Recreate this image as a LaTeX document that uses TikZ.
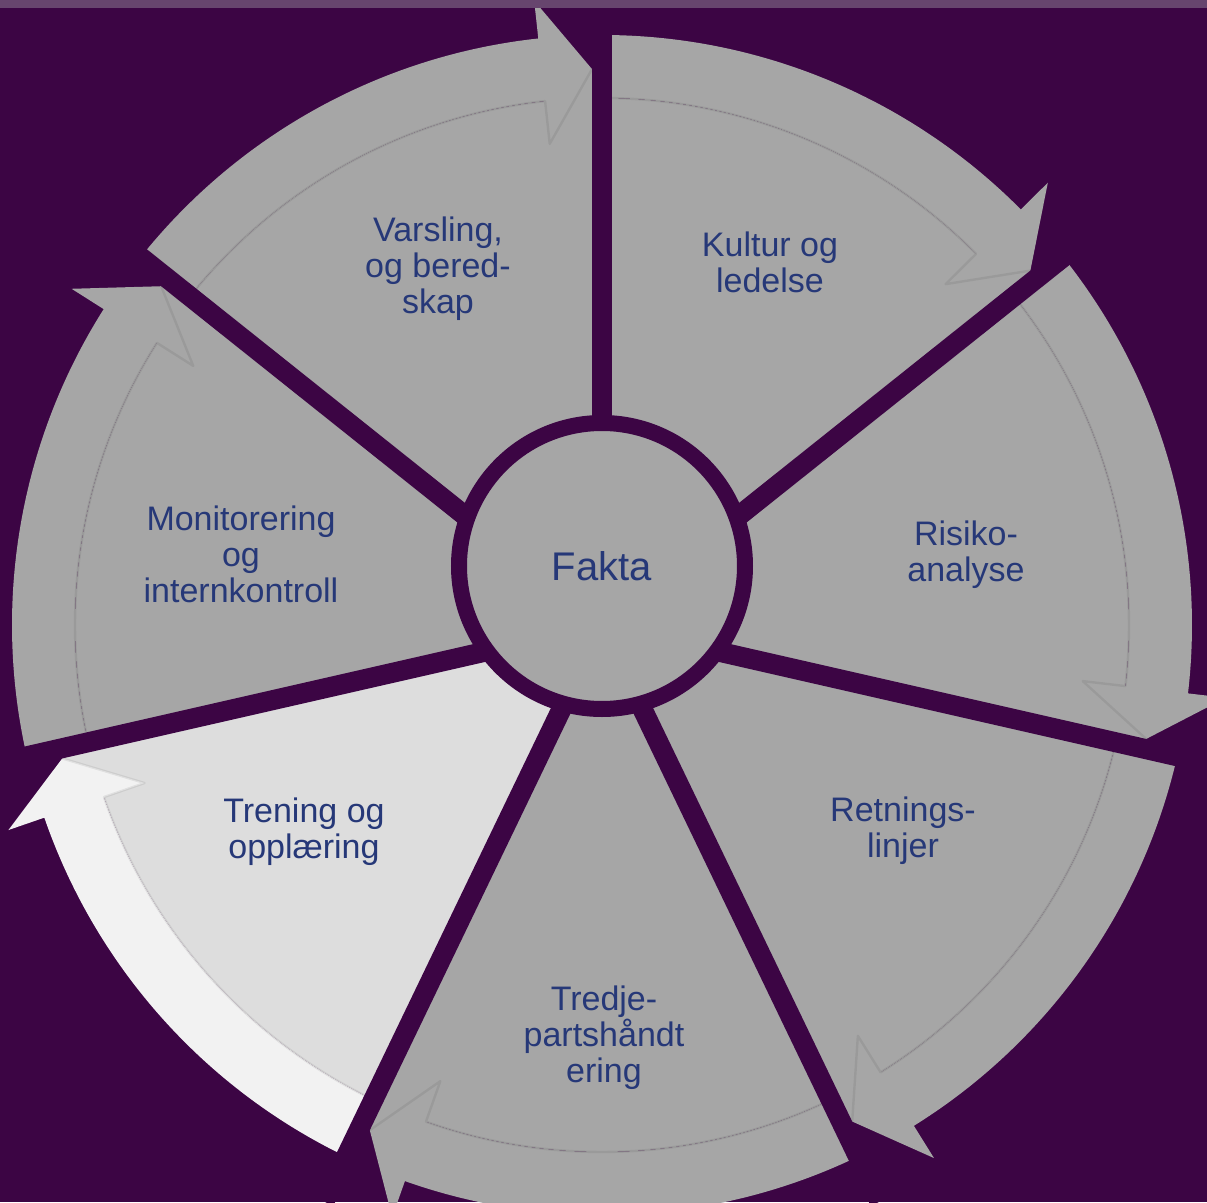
\documentclass[tikz,border=0pt]{standalone}
\usepackage{fontspec}
\setmainfont{Liberation Sans}
\definecolor{bgpurple}{HTML}{3C0544}
\definecolor{topstrip}{HTML}{67456E}
\definecolor{seggray}{HTML}{A6A6A6}
\definecolor{lightwedge}{HTML}{DDDDDD}
\definecolor{lightband}{HTML}{F2F2F2}
\definecolor{navytext}{HTML}{263878}
\tikzset{
  lbl/.style={text=navytext, font=\fontsize{34}{36}\selectfont, align=center, inner sep=0pt},
  gapline/.style={draw=bgpurple, line width=20pt},
  shadowline/.style={draw=black, draw opacity=0.07, line width=2.4pt, line join=round},
}
\newcommand\cycseg[3]{%
  \pgfmathsetmacro\segA{#1}%
  \pgfmathsetmacro\segB{#1-51.4286+6.2}%
  \pgfmathsetmacro\segT{#1-51.4286+1.03}%
  \pgfmathsetmacro\segE{#1-51.4286}%
  \fill[#2] (0,0) -- (\segA:527pt) arc[start angle=\segA, end angle=\segB, radius=527pt]
     -- (\segB:556pt) arc[start angle=\segB, end angle=\segE, radius=556pt] -- cycle;
  \fill[#3] (\segA:527pt) -- (\segA:590pt) arc[start angle=\segA, end angle=\segB, radius=590pt]
     -- (\segB:628pt) -- (\segT:556pt) -- (\segB:484pt) -- (\segB:527pt)
     arc[start angle=\segB, end angle=\segA, radius=527pt] -- cycle;
  \draw[shadowline] (\segA:527pt) arc[start angle=\segA, end angle=\segB, radius=527pt]
     -- (\segB:484pt) -- (\segT:556pt);
}
\begin{document}
\begin{tikzpicture}[x=1pt,y=1pt]
  \useasboundingbox (-602,-577) rectangle (605,625);
  \fill[bgpurple] (-602,-577) rectangle (605,625);
  % segments, clockwise from top
  \cycseg{90}{seggray}{seggray}
  \cycseg{38.5714}{seggray}{seggray}
  \cycseg{-12.8571}{seggray}{seggray}
  \cycseg{-64.2857}{seggray}{seggray}
  \cycseg{-115.7143}{lightwedge}{lightband}
  \cycseg{-167.1429}{seggray}{seggray}
  \cycseg{141.4286}{seggray}{seggray}
  % gaps
  \foreach \g in {90,38.5714,-12.8571,-64.2857,-115.7143,-167.1429,141.4286}
    \draw[gapline] (0,0) -- (\g:640pt);
  % top strip
  \fill[topstrip] (-602,617) rectangle (605,625);
  % centre
  \node[circle, fill=seggray, draw=bgpurple, line width=16pt, minimum size=286pt,
        inner sep=0pt, text=navytext, font=\fontsize{40}{48}\selectfont] (fakta) at (0,59) {Fakta};
  % labels
  \node[lbl] (kultur) at (168,363) {Kultur og\\ledelse};
  \node[lbl] (risiko) at (364,70) {Risiko-\\analyse};
  \node[lbl] (retning) at (301,-206) {Retnings-\\linjer};
  \node[lbl] (tredje) at (2,-413) {Tredje-\\partshåndt\\ering};
  \node[lbl] (trening) at (-298,-207) {Trening og\\opplæring};
  \node[lbl] (monitor) at (-361,71) {Monitorering\\og\\internkontroll};
  \node[lbl] (varsling) at (-164,356) {Varsling,\\og bered-\\skap};
\end{tikzpicture}
\end{document}
